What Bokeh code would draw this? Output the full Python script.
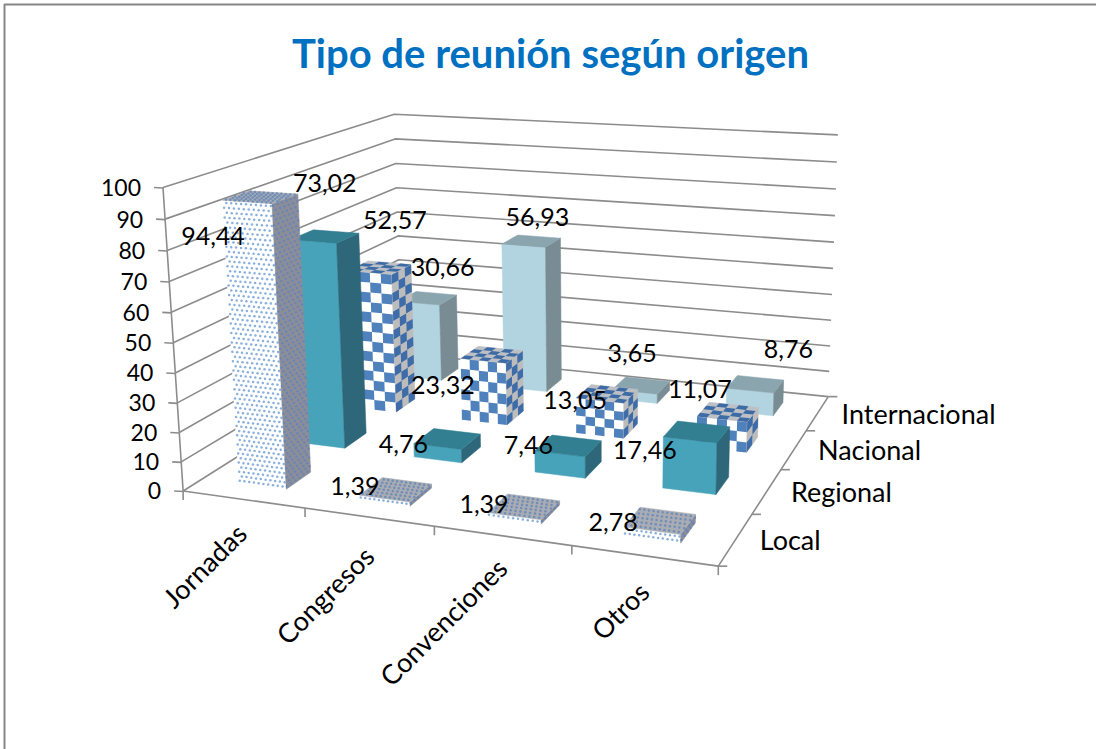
import math
import numpy as np
from bokeh.plotting import figure
from bokeh.models import Range1d
from bokeh.core.properties import value
from bokeh.embed import file_html
from bokeh.resources import INLINE

# ---------- data ----------
title_text = "Tipo de reunión según origen"
categories = ["Jornadas", "Congresos", "Convenciones", "Otros"]
series_names = ["Local", "Regional", "Nacional", "Internacional"]
local = [94.44, 1.39, 1.39, 2.78]
regional = [73.02, 4.76, 7.46, 17.46]
nacional = [52.57, 23.32, 13.05, 11.07]
internacional = [30.66, 56.93, 3.65, 8.76]
value_ticks = [0, 10, 20, 30, 40, 50, 60, 70, 80, 90, 100]

# ---------- layout ----------
W, H = 1096, 749
FONT = "Lato"
GRID = "#8c8c8c"
CELL = 0.248
# camera: where the corners of the chart box (x, depth, value) land on the page
camera = [((0, 0, 0), (181, 491)), ((1, 0, 0), (718, 565)), ((1, 1, 0), (827, 397)),
          ((0, 1, 0), (403, 352)), ((0, 0, 1), (164, 187)), ((0, 1, 1), (392, 114)),
          ((1, 1, 1), (838, 134))]
# label nudges in pixels from the centre of each bar's top
nudge = {
    "Local": [(-47.5, 39), (-41, -4), (-40, -3), (-47, 1)],
    "Regional": [(0, -53), (-44, 5), (-40, -1), (-52, 18)],
    "Nacional": [(15, -48), (-49, 30), (-32, 6), (-28, -23)],
    "Internacional": [(15, -31), (6, -24), (-9, -32), (33, -35)],
}
cat_label_xy = [(-39, 66), (-44, 78), (-59, 86), (-24, 55)]
depth_label_dx = 24


def fit_camera(pairs):
    A, b = [], []
    for (X, Y, Z), (u, v) in pairs:
        A.append([X, Y, Z, 1, 0, 0, 0, 0, -u * X, -u * Y, -u * Z]); b.append(u)
        A.append([0, 0, 0, 0, X, Y, Z, 1, -v * X, -v * Y, -v * Z]); b.append(v)
    s = np.linalg.lstsq(np.array(A, float), np.array(b, float), rcond=None)[0]
    return np.append(s, 1.0).reshape(3, 4)


M = fit_camera(camera)


def proj(X, Y, Z):
    q = M @ np.array([X, Y, Z, 1.0])
    return q[0] / q[2], q[1] / q[2]


p = figure(width=W, height=H, x_range=Range1d(0, W), y_range=Range1d(H, 0),
           output_backend="svg", toolbar_location=None, min_border=0,
           background_fill_color="white", border_fill_color="white", outline_line_color=None)
p.axis.visible = False
p.grid.visible = False

# chart-area border
p.line([4, 4, W], [H, 4, 4], line_color="#868686", line_width=2)

# walls
for t in value_ticks:
    z = t / 100
    pts = [proj(0, 0, z), proj(0, 1, z), proj(1, 1, z)]
    p.line([a[0] for a in pts], [a[1] for a in pts], line_color=GRID, line_width=1.6)
    a = proj(0, 0, z)
    p.line([a[0] - 9, a[0]], [a[1], a[1] + 0.5], line_color=GRID, line_width=1.6)

pts = [proj(0, 0, 1), proj(0, 0, 0), proj(1, 0, 0), proj(1, 1, 0)]
p.line([a[0] for a in pts], [a[1] for a in pts], line_color=GRID, line_width=1.6)
for i in range(5):
    a = proj(i / 4, 0, 0)
    p.line([a[0], a[0]], [a[1], a[1] + 9], line_color=GRID, line_width=1.6)
for i in range(5):
    a = proj(1, i / 4, 0)
    p.line([a[0], a[0] + 9], [a[1], a[1]], line_color=GRID, line_width=1.6)


def quad(o, e1, e2, u0, u1, v0, v1):
    out = []
    for u, v in ((u0, v0), (u1, v0), (u1, v1), (u0, v1)):
        out.append(proj(*(o + u * e1 + v * e2)))
    return [a[0] for a in out], [a[1] for a in out]


def face_solid(o, e1, e2, color):
    xs, ys = quad(o, e1, e2, 0, 1, 0, 1)
    p.patch(xs, ys, fill_color=color, line_color=color, line_width=0.5)


def px_len(o, e):
    a, b = proj(*o), proj(*(o + e))
    return math.hypot(a[0] - b[0], a[1] - b[1])


def face_checker(o, e1, e2, base, ink, cu=10.0, cv=9.5):
    face_solid(o, e1, e2, base)
    lu, lv = px_len(o, e1), px_len(o, e2)
    nu, nv = max(1, round(lu / cu)), max(1, round(lv / cv))
    xs, ys = [], []
    for i in range(nu):
        for j in range(nv):
            if (i + j) % 2 == 0:
                a, b = quad(o, e1, e2, i / nu, (i + 1) / nu, j / nv, (j + 1) / nv)
                xs.append(a)
                ys.append(b)
    if xs:
        p.patches(xs, ys, fill_color=ink, line_color=None)


def face_dots(o, e1, e2, base, ink, cu=4.7, cv=4.7, size=2.5):
    face_solid(o, e1, e2, base)
    lu, lv = px_len(o, e1), px_len(o, e2)
    nu, nv = max(1, round(lu / cu)), max(1, round(lv / cv))
    xs, ys = [], []
    for j in range(nv):
        for i in range(nu):
            sh = 0.25 if j % 2 else -0.25
            uu = (i + 0.5 + sh) / nu
            vv = (j + 0.5) / nv
            a = proj(*(o + uu * e1 + vv * e2))
            xs.append(a[0])
            ys.append(a[1])
    p.scatter(xs, ys, size=size, marker="circle", fill_color=ink, line_color=None)


def draw_bar(ci, si, val, kind):
    x0, x1 = (ci + 0.3) * CELL, (ci + 0.7) * CELL
    y0, y1 = (si + 0.3) / 4, (si + 0.7) / 4
    z = val / 100
    ex = np.array([x1 - x0, 0, 0.0])
    ey = np.array([0, y1 - y0, 0.0])
    ez = np.array([0, 0, z])
    front = np.array([x0, y0, 0.0])
    side = np.array([x1, y0, 0.0])
    top = np.array([x0, y0, z])
    if kind == "dots":
        face_dots(front, ex, ez, "#ffffff", "#8aafdc")
        face_dots(side, ey, ez, "#8b8e98", "#6a85b5")
        face_dots(top, ex, ey, "#a9acb2", "#6f8db9")
    elif kind == "check":
        face_checker(front, ex, ez, "#ffffff", "#4f81bd")
        face_checker(side, ey, ez, "#bcbcbc", "#3e6ca8", cu=8)
        face_checker(top, ex, ey, "#bcbfc4", "#3d6ba5", cv=5)
    else:
        f, s, t = kind
        face_solid(front, ex, ez, f)
        face_solid(side, ey, ez, s)
        face_solid(top, ex, ey, t)


series_vals = [local, regional, nacional, internacional]
kinds = ["dots", ("#47a3ba", "#2d6779", "#337f92"), "check", ("#b2d4e0", "#798c93", "#8ba5af")]
for si in (3, 2, 1, 0):
    for ci in range(4):
        draw_bar(ci, si, series_vals[si][ci], kinds[si])

# texts
lx, ly, lt = [], [], []
for si, name in enumerate(series_names):
    for ci, v in enumerate(series_vals[si]):
        c = proj((ci + 0.5) * CELL, (si + 0.5) / 4, v / 100)
        lx.append(c[0] + nudge[name][ci][0])
        ly.append(c[1] + nudge[name][ci][1])
        lt.append(f"{v:.2f}".replace(".", ","))
p.text(lx, ly, text=lt, text_font=value(FONT), text_font_size=value("25px"), text_color="#000000",
       text_align="center", text_baseline="middle")

tx, ty, tt = [], [], []
for t in value_ticks:
    a = proj(0, 0, t / 100)
    tx.append(a[0] - 22)
    ty.append(a[1])
    tt.append(str(t))
p.text(tx, ty, text=tt, text_font=value(FONT), text_font_size=value("23px"), text_color="#000000",
       text_align="right", text_baseline="middle")

dx, dy, dt = [], [], []
for i, name in enumerate(series_names):
    a = proj(1, (i + 0.5) / 4, 0)
    dx.append(a[0] + depth_label_dx)
    dy.append(a[1])
    dt.append(name)
p.text(dx, dy, text=dt, text_font=value(FONT), text_font_size=value("27px"), text_color="#000000",
       text_align="left", text_baseline="middle")

cx, cy = [], []
for i, c in enumerate(categories):
    a = proj((i + 0.5) / 4, 0, 0)
    cx.append(a[0] + cat_label_xy[i][0])
    cy.append(a[1] + cat_label_xy[i][1])
p.text(cx, cy, text=categories, angle=math.pi / 4, text_font=value(FONT), text_font_size=value("27px"),
       text_color="#000000", text_align="center", text_baseline="middle")

p.text([550], [52], text=[title_text], text_font=value(FONT), text_font_style="bold",
       text_font_size=value("40px"), text_color="#0070c0", text_align="center", text_baseline="middle")

open("out.html", "w").write(file_html(p, INLINE))
